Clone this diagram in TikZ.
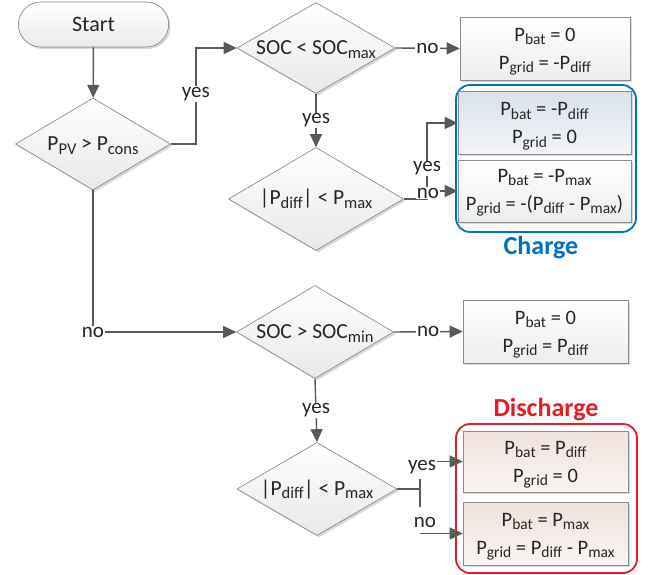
\documentclass[tikz,border=0pt]{standalone}
\usepackage{fontspec}
\setmainfont{Carlito}
\usetikzlibrary{shapes.geometric,shapes.misc,arrows.meta,shadows,calc}
\newcommand\sbs[1]{\raisebox{-3.5pt}[0pt][0pt]{\fontsize{15.5}{15.5}\selectfont #1}}
\newcommand\sbd[1]{\raisebox{-3.5pt}[0pt][0pt]{\fontsize{16.5}{16.5}\selectfont #1}}
\definecolor{chblue}{RGB}{0,112,192}
\definecolor{dcred}{RGB}{232,28,36}
\definecolor{conncol}{RGB}{89,89,89}
\definecolor{txt}{RGB}{38,38,38}
\definecolor{bluetop}{RGB}{218,226,237}
\definecolor{bluebot}{RGB}{242,245,249}
\definecolor{pinktop}{RGB}{240,226,220}
\definecolor{pinkbot}{RGB}{250,245,242}
\tikzset{
  shad/.style={drop shadow={shadow xshift=2pt,shadow yshift=-2pt,fill=black!30,opacity=0.5}},
  dia/.style={diamond, draw=black!50, line width=0.6pt, top color=white, bottom color=black!9,
    inner sep=0pt, text=txt, font=\fontsize{21.5}{24}\selectfont, shad},
  res/.style={rectangle, draw=black!45, line width=0.6pt, top color=white, bottom color=black!7,
    align=center, text=txt, font=\fontsize{20.5}{28}\selectfont, inner sep=0pt, shad},
  grp/.style={rectangle, rounded corners=14pt, line width=1.8pt, inner sep=0pt},
  conn/.style={draw=conncol, line width=1.4pt, -{Triangle[length=13pt,width=12pt]}},
  plain/.style={draw=conncol, line width=1.4pt},
  lbl/.style={fill=white, inner sep=1pt, text=txt, font=\fontsize{21}{21}\selectfont},
}
\begin{document}
\begin{tikzpicture}[x=1pt,y=-1pt]
\useasboundingbox (0,0) rectangle (649,575);
% groups
\node[grp, draw=chblue, minimum width=180pt, minimum height=147pt] (GC) at (546,158.5) {};
\node[grp, draw=dcred, minimum width=181pt, minimum height=149pt] (GD) at (546.5,498.5) {};
\node[text=chblue, font=\bfseries\fontsize{26}{26}\selectfont] (tC) at (541,248) {Charge};
\node[text=dcred, font=\bfseries\fontsize{26}{26}\selectfont] (tD) at (546,410) {Discharge};
% start
\node[rounded rectangle, draw=black!50, line width=0.6pt, top color=white, bottom color=black!8,
  minimum width=157pt, minimum height=45pt, text=txt, font=\fontsize{22}{22}\selectfont, shad] (S) at (93.5,24.5) {Start};
% decisions
\node[dia, minimum width=155pt, minimum height=92pt] (D1) at (93,144) {\makebox[0pt]{P\sbd{PV} > P\sbd{cons}}};
\node[dia, minimum width=158pt, minimum height=91pt] (D2) at (316,48) {\makebox[0pt]{SOC < SOC\sbd{max}}};
\node[dia, minimum width=175pt, minimum height=103pt] (D3) at (316,199) {\makebox[0pt]{|P\sbd{diff}| < P\sbd{max}}};
\node[dia, minimum width=157pt, minimum height=93pt] (D4) at (315,332) {\makebox[0pt]{SOC > SOC\sbd{min}}};
\node[dia, minimum width=160pt, minimum height=93pt] (D5) at (317,489) {\makebox[0pt]{|P\sbd{diff}| < P\sbd{max}}};
% results
\node[res, minimum width=170pt, minimum height=63pt] (B1) at (545,48.5) {P\sbs{bat} = 0\\P\sbs{grid} = -P\sbs{diff}};
\node[res, top color=bluetop, bottom color=bluebot, minimum width=173pt, minimum height=63pt] (B2) at (544.5,123) {P\sbs{bat} = -P\sbs{diff}\\P\sbs{grid} = 0};
\node[res, minimum width=173pt, minimum height=62pt] (B3) at (544.5,191) {P\sbs{bat} = -P\sbs{max}\\P\sbs{grid} = -(P\sbs{diff} - P\sbs{max})};
\node[res, minimum width=165pt, minimum height=63pt] (B4) at (545.5,331.5) {P\sbs{bat} = 0\\P\sbs{grid} = P\sbs{diff}};
\node[res, top color=pinktop, bottom color=pinkbot, minimum width=165pt, minimum height=61pt] (B5) at (545.5,461.5) {P\sbs{bat} = P\sbs{diff}\\P\sbs{grid} = 0};
\node[res, top color=pinktop, bottom color=pinkbot, minimum width=165pt, minimum height=63pt] (B6) at (545.5,533.5) {P\sbs{bat} = P\sbs{max}\\P\sbs{grid} = P\sbs{diff} - P\sbs{max}};
% connectors
\draw[conn] (S) -- (D1);
\draw[conn] (D1.east) -- ++(25,0) |- node[lbl, pos=0.26] {yes} (D2.west);
\draw[conn] (D2.east) -- node[lbl] {no} (B1.west);
\draw[conn] (D2.south) -- node[lbl] {yes} (D3.north);
\draw[conn] (D1.south) |- node[lbl, pos=0.5] {no} (D4.west);
\draw[conn] (D4.east) -- node[lbl] {no} (B4.west);
\draw[conn] (D4.south) -- node[lbl] {yes} (D5.north);
% D3 branches
\coordinate (J3) at (427,199);
\draw[conn] (D3.east) -- (J3) |- node[lbl, pos=0.2] {yes} (B2.west);
\node[lbl] (n3) at (428,193) {no};
\draw[conn] (n3.east |- B3.west) -- (B3.west);
% D5 branches
\coordinate (J5) at (420,489);
\draw[plain] (D5.east) -- (J5);
\draw[plain] ($(J5)+(0,-10)$) -- ($(J5)+(0,18)$);
\node[lbl, fill=none] (y5) at (422,467) {yes};
\draw[conn] (y5.east |- B5.west) -- (B5.west);
\node[lbl, fill=none] (n5) at (425,522) {no};
\draw[conn] (J5 |- B6.west) -- (B6.west);
\end{tikzpicture}
\end{document}
